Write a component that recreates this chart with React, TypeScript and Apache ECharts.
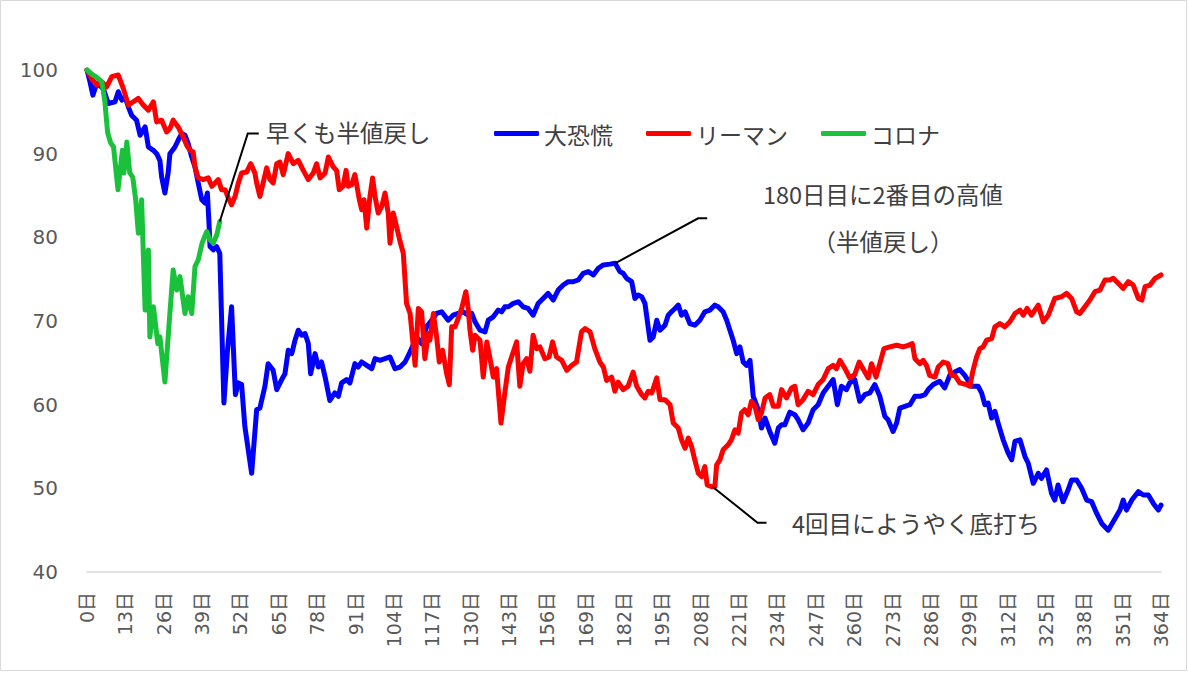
import React, { useEffect, useRef } from "react";
import * as echarts from "echarts";

// ---- data ----
const X_MAX = 364;
const X_INTERVAL = 13;
const Y_MIN = 40;
const Y_MAX = 100;
const Y_INTERVAL = 10;
const seriesNames = ["大恐慌", "リーマン", "コロナ"];
const seriesColors = ["#0000FF", "#FF0000", "#19C23A"];

const greatDepression: [number, number][] = [
  [0,100],[1,98.6],[2,97.0],[3.3,98.4],[5.5,97.8],[7.2,96.0],[9.5,96.2],[10.6,97.4],[11.8,96.4],[12.9,96.8],
  [14,95.6],[15.1,94.6],[16.8,94.0],[18,92.2],[19.7,93.2],[20.8,90.8],[22.5,90.4],[23.6,90.0],[24.7,89.2],[25.3,87.2],
  [26.4,85.3],[27.5,87.7],[28.1,90.0],[29.8,90.8],[30.9,91.6],[32.1,92.4],[33.2,92.2],[34.3,91.2],[35.5,89.6],[36.6,88.4],
  [37.7,86.5],[38.9,84.5],[40,84.1],[40.8,85.3],[41.4,81.3],[41.7,78.9],[42.8,78.5],[43.9,78.9],[45,78.1],[46.4,60.2],
  [47.5,66],[49,71.7],[50.3,61.2],[51.3,62.6],[52.4,62.4],[53.5,57.4],[55.8,51.8],[57.5,59.4],[58.6,59.6],[60.3,62.2],
  [61.4,64.9],[63.1,64.1],[64.3,61.8],[66,63.0],[67.1,63.7],[68.2,66.5],[69.4,66.1],[70.5,67.7],[71.6,68.9],[72.8,68.3],
  [73.9,68.5],[75,67.3],[75.8,63.7],[77.3,66.1],[78.4,64.5],[79.5,65.1],[80.7,63.3],[82.3,60.5],[84,61.4],[85.2,61.0],
  [86.3,62.6],[88,63.0],[89.1,62.6],[90.8,64.9],[91.9,64.5],[93.1,65.1],[94.8,64.7],[96.5,64.3],[97.6,65.5],[99.3,65.3],
  [101,65.5],[102.7,65.7],[104.4,64.3],[106.1,64.5],[107.8,65.1],[109.5,66.3],[111.7,68.1],[113.4,67.3],[115.1,69.3],[116.8,70.1],
  [118.5,70.9],[120.2,71.1],[122.4,70.1],[124.1,70.7],[125.8,70.9],[127.5,71.1],[129.2,70.7],[130.4,70.9],[131.5,69.9],[133.2,68.9],
  [134.9,68.7],[136,70.1],[137.7,70.5],[139.4,71.3],[140.5,71.1],[141.6,71.7],[142.8,71.7],[144.5,72.1],[146.2,72.3],[147.8,71.7],
  [149.5,71.5],[151.2,70.7],[152.9,72.1],[154.6,72.7],[156.3,73.3],[158,72.5],[159.7,73.7],[161.4,74.3],[163.1,74.7],[164.8,74.7],
  [166.5,74.9],[168.2,75.7],[169.9,75.9],[171.6,75.5],[173.3,76.3],[175,76.7],[177.2,76.8],[179,76.9],[180.6,75.9],[181.7,75.7],
  [182.9,75.1],[184.6,74.7],[185.7,72.7],[186.8,73.1],[188,72.9],[189.1,72.1],[190.8,67.7],[191.9,68.1],[193.1,70.1],[194.2,68.9],
  [195.9,69.5],[197,70.7],[198.1,71.1],[199.3,71.5],[200.4,71.9],[201.5,70.7],[202.7,71.1],[204.3,69.7],[206,69.5],[207.7,70.1],
  [209.4,71.1],[211.1,71.3],[212.8,71.9],[213.9,71.7],[215.6,71.1],[216.8,70.1],[217.9,68.9],[219,67.7],[220.2,66.1],[221.3,66.9],
  [222.4,65.1],[223.5,64.7],[224.7,65.3],[225.8,61.0],[227.5,59.4],[228.6,57.2],[229.8,58.4],[231.4,56.8],[233.1,55.4],[234.3,57.2],
  [235.4,57.6],[236.5,57.6],[238.2,59.1],[239.9,58.8],[241,58.2],[242.7,57.0],[244.4,57.8],[246.1,59.4],[247.8,60.0],[249.5,61.4],
  [251.2,62.2],[252.9,63.0],[254.3,60.0],[255.7,62.2],[257.4,61.8],[258.5,62.6],[260.2,63.0],[261.9,60.4],[263.6,61.2],[265.3,61.4],
  [267,62.4],[268.7,61.0],[270.4,58.6],[271.5,58.2],[273.2,56.8],[274.4,57.8],[275.5,59.6],[277.2,59.8],[278.9,60.0],[280.6,61.0],
  [282.3,61.0],[284,61.2],[285.1,61.8],[286.8,62.4],[289,62.8],[290.7,62.0],[292.4,63.5],[294.1,63.9],[295.8,64.2],[297.5,63.5],
  [299.8,62.2],[302,62.2],[303.2,61.4],[304.3,60.0],[305.4,60.2],[306.6,58.4],[307.7,59.2],[308.8,57.8],[310.5,55.8],[312.2,54.2],
  [313.4,53.4],[314.5,55.6],[316.2,55.8],[317.9,53.8],[319,53.0],[320.7,50.6],[322.4,51.8],[323.5,51.2],[325.2,52.2],[326.9,49.4],
  [328,48.6],[329.1,50.4],[330.8,48.4],[332.5,49.8],[333.7,51.0],[335.4,51.0],[337.1,50.0],[338.8,48.6],[340.5,48.4],[342.2,47.0],
  [343.9,45.8],[346.1,45.0],[347.8,46.0],[350.1,47.4],[351.2,48.6],[352.3,47.4],[354.1,48.6],[356.3,49.6],[358,49.2],[359.7,49.2],
  [361.4,48.2],[363.1,47.4],[364,48.0]
];

const lehman: [number, number][] = [
  [0,100],[1.5,99.0],[3.3,98.2],[5,98.6],[6.7,98.0],[8.4,99.2],[10.6,99.4],[12.3,97.8],[14,95.8],[15.7,96.2],
  [17.4,96.6],[19.1,95.8],[20.8,95.2],[22.5,96.2],[23.6,93.8],[25.3,94.0],[27,92.6],[28.1,93.0],[29.2,94.0],[30.9,93.2],
  [32.6,92.0],[33.8,91.0],[34.9,90.4],[36,90.2],[36.6,88.4],[37.7,87.1],[39.4,86.9],[41.1,87.1],[42.3,86.1],[43.4,86.5],
  [44.5,86.9],[45.6,85.7],[46.8,85.7],[47.9,84.7],[49,83.9],[50.2,84.9],[51.3,86.5],[52.4,87.7],[54.1,87.8],[55.5,88.8],
  [56.9,87.7],[57.5,86.5],[58.6,84.9],[59.7,86.5],[60.9,88.3],[62,86.9],[63.1,86.5],[64.3,88.8],[65.4,89.0],[66.5,87.5],
  [68.2,90.0],[69.9,88.8],[71.6,89.2],[73.3,88.0],[75,86.9],[76.7,87.7],[77.8,88.8],[79,87.1],[80.7,87.7],[81.8,89.6],
  [83.5,88.4],[84.6,88.0],[85.5,85.7],[86.8,86.1],[87.8,88.0],[88.5,86.1],[89.7,86.3],[90.8,87.5],[92.3,84.5],[93.1,83.3],
  [93.9,84.5],[94.8,81.1],[95.9,84.9],[96.8,87.1],[97.6,84.9],[98.7,82.9],[99.9,83.7],[101,85.3],[102.1,82.9],[102.7,79.3],
  [103.8,82.9],[104.9,81.3],[106.1,79.5],[107.2,78.1],[108.3,72.1],[109.5,70.9],[110.6,66.9],[111.2,64.7],[112.3,71.5],[113.4,71.1],
  [114.5,65.5],[115.7,68.5],[116.2,67.7],[117.4,70.9],[118.5,68.1],[119.4,65.1],[120.5,66.5],[121.9,63.7],[122.8,62.4],[123.6,69.3],
  [124.7,69.3],[125.8,70.3],[127,71.5],[128.4,73.5],[129.2,71.5],[129.8,68.9],[130.7,66.5],[131.5,68.3],[133.2,67.7],[134.3,63.3],
  [135.5,67.5],[136.6,65.5],[137.7,63.3],[138.8,64.3],[140.3,57.8],[141.6,61.4],[142.8,64.5],[143.9,65.7],[145.6,67.5],[146.7,62.2],
  [147.8,64.9],[149,65.5],[150.1,64.0],[151.2,68.3],[152.4,66.7],[153.5,66.9],[155.2,65.5],[156.6,65.7],[157.8,67.5],[159.1,65.7],
  [160.9,65.3],[162.6,64.1],[164.3,64.7],[165.9,65.1],[167.6,68.7],[168.8,69.1],[170.5,68.7],[172.1,66.7],[173.8,65.1],[175,64.5],
  [176.1,62.9],[177.8,63.3],[178.9,61.6],[180,62.7],[181.7,61.8],[183.4,62.2],[185.1,63.9],[186.3,62.2],[188,61.2],[189.1,60.8],
  [190.2,61.6],[191.4,61.4],[193.1,63.2],[194.2,60.6],[195.9,60.6],[197.6,60.0],[198.7,57.8],[200.4,57.2],[201.5,55.8],[202.7,54.8],
  [203.8,56.0],[204.9,55.0],[206,53.4],[207.2,51.8],[208.3,51.4],[209.4,52.6],[210.2,50.4],[211.7,50.2],[212.8,50.2],[213.4,52.8],
  [214.5,53.4],[215.6,54.6],[217.3,55.2],[218.4,55.8],[219.6,57.0],[220.7,56.6],[221.8,59.0],[222.9,59.4],[224.1,58.8],[225.2,60.4],
  [226.4,59.8],[227.5,58.2],[228.6,59.0],[229.8,60.8],[231.4,61.2],[232.6,59.8],[234.3,59.8],[235.4,61.8],[237.1,60.8],[238.8,62.0],
  [239.9,62.2],[241,60.0],[242.7,60.6],[244.4,61.6],[246.1,61.2],[247.8,62.4],[249.5,63.0],[251.2,64.3],[252.9,64.7],[254,64.3],
  [255.2,65.3],[256.9,64.3],[258.5,63.2],[260.2,63.6],[261.7,65.1],[263,64.3],[264.8,63.2],[265.9,64.9],[267.4,63.3],[268.7,64.9],
  [270.1,66.7],[272.1,66.9],[274.4,67.1],[276.6,66.9],[278.3,67.1],[279.7,67.3],[280.6,65.5],[282.3,64.9],[283.4,65.3],[284.5,64.7],
  [285.6,63.5],[287.4,63.3],[288.5,64.5],[290.2,65.1],[291.8,64.9],[293,63.5],[294.1,63.5],[295.8,62.6],[298.1,62.4],[299.2,62.2],
  [300.3,64.1],[301.5,65.7],[302.6,66.7],[303.7,66.9],[304.9,67.7],[306.6,67.9],[307.7,69.3],[309.4,69.7],[311.1,69.3],[312.8,69.9],
  [314.5,70.9],[316.2,71.3],[317.3,70.7],[318.6,71.5],[320.1,70.7],[322.4,71.9],[324.1,69.9],[325.8,70.7],[328,72.7],[330.3,72.9],
  [332,73.3],[333.7,72.7],[335.4,71.1],[336.5,70.9],[338.2,71.7],[339.9,72.5],[341.6,73.5],[343.3,73.7],[345,74.9],[346.7,74.9],
  [347.8,75.1],[349.5,74.5],[351.2,73.9],[352.9,74.7],[354.6,74.3],[356.3,72.7],[357.5,72.5],[358.6,74.1],[360.3,74.3],[362,75.1],
  [364,75.5]
];

const corona: [number, number][] = [
  [0,100],[2,99.4],[3,99.2],[5,98.6],[6,96.4],[7,92.5],[8,91.3],[9,90.8],[10.5,85.7],[12,90.4],
  [12.5,87.7],[13.5,91.4],[14.5,87.7],[15.5,87.2],[16.5,84.5],[17.4,80.5],[18.5,84.5],[19.7,71.3],[20.8,78.5],[21.3,68.1],
  [22.5,71.7],[24,67.3],[24.7,68.1],[26.4,62.7],[28,70.5],[29.2,76.1],[30.4,73.7],[31.5,75.3],[33.2,70.9],[34.3,72.9],
  [35.5,70.9],[36.6,76.5],[37.7,77.3],[39,79.3],[40.6,80.7],[41.7,79.7],[42.8,79.3],[44,80.3],[45,81.9]
];

// annotation anchors (day, value) on the lines and their texts
const noteEarly = { anchor: [45, 81.9], text: "早くも半値戻し" };
const noteSecondHigh = { anchor: [179, 76.9], lines: ["180日目に2番目の高値", "（半値戻し）"] };
const noteBottom = { anchor: [212, 50.2], text: "4回目にようやく底打ち" };

const FONT_CJK = "'Noto Sans CJK JP', 'Noto Sans', sans-serif";
const FONT_NUM = "'DejaVu Sans', 'Noto Sans CJK JP', sans-serif";
const TEXT_COLOR = "#404040";
const AXIS_TEXT = "#595959";

export default function App() {
  const ref = useRef<HTMLDivElement>(null);

  useEffect(() => {
    if (!ref.current) return;
    const chart = echarts.init(ref.current, undefined, { renderer: "svg" });
    const datasets = [greatDepression, lehman, corona];
    chart.setOption({
      animation: false,
      backgroundColor: "#ffffff",
      grid: { left: 87, right: 27, top: 70, bottom: 101, containLabel: false },
      legend: {
        data: seriesNames,
        left: 489,
        top: 117,
        itemWidth: 45,
        itemHeight: 5,
        itemGap: 33,
        icon: "roundRect",
        textStyle: { fontSize: 23, color: TEXT_COLOR, fontFamily: FONT_CJK },
      },
      xAxis: {
        type: "value",
        min: 0,
        max: X_MAX,
        interval: X_INTERVAL,
        axisLine: { show: true, lineStyle: { color: "#D9D9D9", width: 1.5 } },
        axisTick: { show: false },
        splitLine: { show: false },
        axisLabel: {
          rotate: 90,
          showMinLabel: true,
          showMaxLabel: true,
          formatter: (v: number) => `${v}日`,
          fontSize: 19,
          color: AXIS_TEXT,
          fontFamily: FONT_NUM,
          margin: 20,
        },
      },
      yAxis: {
        type: "value",
        min: Y_MIN,
        max: Y_MAX,
        interval: Y_INTERVAL,
        axisLine: { show: false },
        axisTick: { show: false },
        splitLine: { show: false },
        axisLabel: { fontSize: 20, color: AXIS_TEXT, fontFamily: FONT_NUM, margin: 29 },
      },
      series: seriesNames.map((name, i) => ({
        name,
        type: "line",
        data: datasets[i],
        showSymbol: false,
        symbol: "none",
        color: seriesColors[i],
        lineStyle: { width: 5, color: seriesColors[i], cap: "round", join: "round" },
        z: 2 + i,
      })),
    });

    const px = (p: number[]) => chart.convertToPixel({ xAxisIndex: 0, yAxisIndex: 0 }, p) as number[];
    const a1 = px(noteEarly.anchor);
    const a2 = px(noteSecondHigh.anchor);
    const a3 = px(noteBottom.anchor);
    const lineStyle = { stroke: "#000000", lineWidth: 2, fill: "none" };
    const textStyle = (extra: any) => ({
      fill: TEXT_COLOR,
      fontSize: 23.5,
      fontFamily: FONT_CJK,
      verticalAlign: "middle",
      ...extra,
    });

    chart.setOption({
      graphic: [
        {
          type: "rect",
          shape: { x: 0.5, y: 0.5, width: 1186, height: 670 },
          style: { fill: "none", stroke: "#D9D9D9", lineWidth: 1 },
          silent: true,
          z: -1,
        },
        {
          type: "polyline",
          shape: { points: [[a1[0], a1[1]], [a1[0] + 28, a1[1] - 88], [a1[0] + 39, a1[1] - 88]] },
          style: lineStyle,
          z: 10,
        },
        { type: "text", x: 266, y: 132, style: textStyle({ text: noteEarly.text, align: "left" }), z: 10 },
        {
          type: "polyline",
          shape: { points: [[a2[0], a2[1]], [a2[0] + 83, a2[1] - 45], [a2[0] + 92, a2[1] - 45]] },
          style: lineStyle,
          z: 10,
        },
        { type: "text", x: 883, y: 194, style: textStyle({ text: noteSecondHigh.lines[0], align: "center" }), z: 10 },
        { type: "text", x: 883, y: 241, style: textStyle({ text: noteSecondHigh.lines[1], align: "center" }), z: 10 },
        {
          type: "polyline",
          shape: { points: [[a3[0], a3[1]], [a3[0] + 45, a3[1] + 36], [a3[0] + 54, a3[1] + 36]] },
          style: lineStyle,
          z: 10,
        },
        { type: "text", x: 792, y: 523, style: textStyle({ text: noteBottom.text, align: "left" }), z: 10 },
      ],
    });

    return () => chart.dispose();
  }, []);

  return (
    <div
      ref={ref}
      style={{ position: "fixed", left: 0, top: 0, width: 1188, height: 673, background: "#fff" }}
    />
  );
}
